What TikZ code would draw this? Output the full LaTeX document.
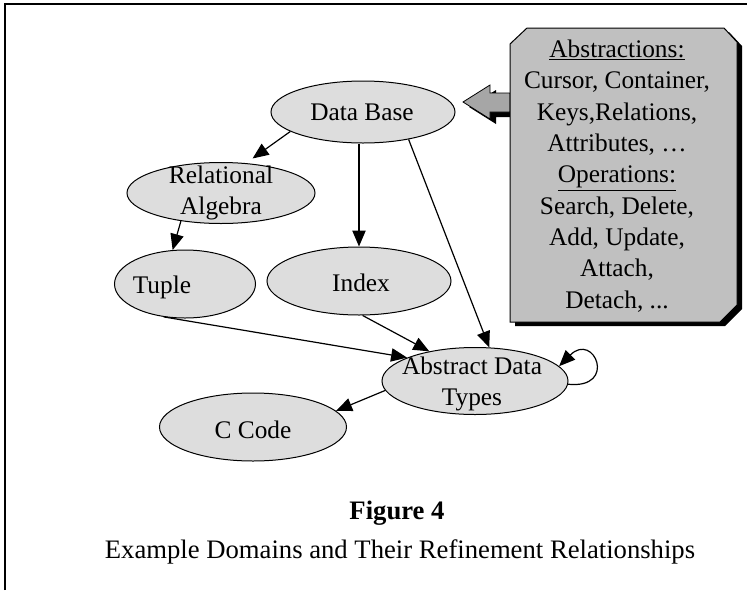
\documentclass[tikz,border=0pt]{standalone}
\usepackage{fontspec}
\setmainfont{Liberation Serif}
\usetikzlibrary{arrows.meta,shapes.geometric}
\definecolor{ellfill}{HTML}{DDDDDD}
\definecolor{boxfill}{HTML}{C0C0C0}
\definecolor{arrfill}{HTML}{A6A6A6}
\begin{document}
\begin{tikzpicture}[x=0.75pt,y=-0.75pt,
  dom/.style={ellipse, draw, line width=0.75pt, fill=ellfill, inner sep=0pt},
  lbl/.style={font=\fontsize{19}{23.5}\selectfont, align=center, inner sep=0pt},
  captxt/.style={font=\fontsize{20}{24}\selectfont, inner sep=0pt},
  edge/.style={-{Triangle[length=12pt,width=10pt]}, line width=0.9pt},
]
\useasboundingbox (0,0) rectangle (747,590);
% frame
\draw[line width=1.5pt] (4.5,590) -- (4.5,4) -- (747,4);

% domain ellipses
\node[dom, minimum width=138pt, minimum height=46.5pt] (db) at (363,112) {};
\node[lbl] (dbt) at (362,112) {Data Base};
\node[dom, minimum width=141pt, minimum height=45.75pt] (ra) at (221,193) {};
\node[lbl] (rat) at (221,193) {Relational\\Algebra};
\node[dom, minimum width=105.75pt, minimum height=51pt] (tup) at (185,284) {};
\node[lbl] (tupt) at (162,287) {Tuple};
\node[dom, minimum width=138pt, minimum height=51pt] (idx) at (359,281) {};
\node[lbl] (idxt) at (361,283) {Index};
\node[dom, minimum width=139.5pt, minimum height=50.25pt] (adt) at (475,381) {};
\node[lbl] (adtt) at (472,384) {Abstract Data\\Types};
\node[dom, minimum width=140.25pt, minimum height=51pt] (cc) at (253,427) {};
\node[lbl] (cct) at (253,430) {C Code};

% connectors
\draw[edge, shorten >=6pt] (db.195) -- (ra.50);
\draw[edge] (ra.215) -- (tup.110);
\draw[edge] (db.south -| idx.north) -- (idx.north);
\draw[edge] (db.-31.5) -- (adt.67.6);
\draw[edge] (tup.-123) -- (adt.161.8);
\draw[edge] (idx.-84.6) -- (adt.147);
\draw[edge] (adt.-174.3) -- (cc.11);
\draw[edge] (adt.-2) .. controls +(50,5) and +(35,-35) .. (adt.10);

% block arrow with shadow
\fill[black] (469,107) -- (496,90) -- (496,98) -- (516,98) -- (516,117) -- (496,117) -- (496,124) -- cycle;
\filldraw[fill=arrfill, line width=0.6pt] (463,102) -- (490,85) -- (490,93) -- (510,93) -- (510,112) -- (490,112) -- (490,119) -- cycle;

% abstractions box with shadow
\fill[black] (515,48) -- (532,32) -- (729,32) -- (742,46) -- (742,309) -- (725,326) -- (515,326) -- cycle;
\filldraw[fill=boxfill, line width=0.75pt] (510,44) -- (527,28) -- (724,28) -- (737,42) -- (737,305) -- (720,322) -- (510,322) -- cycle;
\node[lbl] (abs) at (617,176) {\underline{Abstractions:}\\Cursor, Container,\\Keys,Relations,\\Attributes, \dots\\\underline{Operations:}\\Search, Delete,\\Add, Update,\\Attach,\\Detach, ...};

% caption
\node[captxt, font=\fontsize{20}{24}\selectfont\bfseries] (fig) at (397,513) {Figure 4};
\node[captxt] (capt) at (400,552) {Example Domains and Their Refinement Relationships};
\end{tikzpicture}
\end{document}
